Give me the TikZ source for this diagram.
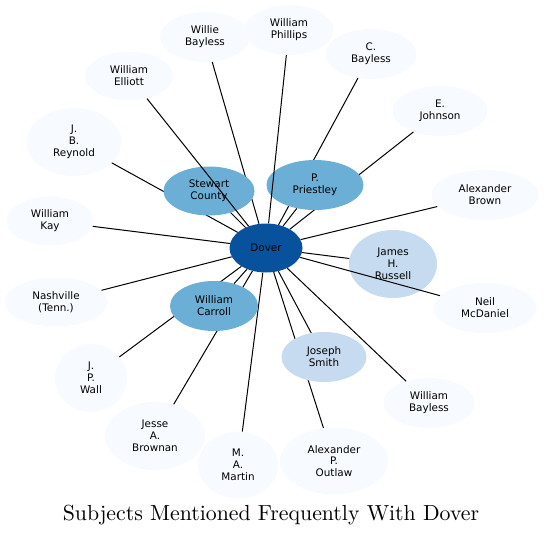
\documentclass[tikz,border=0pt]{standalone}
\usepackage{fontspec}
\usepackage{graphicx}
\newfontfamily\nodefont{DejaVu Sans}
\usetikzlibrary{shapes.geometric}
\definecolor{cdark}{HTML}{08519C}
\definecolor{cmid}{HTML}{6BAED6}
\definecolor{clight}{HTML}{C6DBEF}
\definecolor{cpale}{HTML}{F7FBFF}
\tikzset{
  ent/.style={ellipse, inner sep=0pt, align=center, font=\nodefont\fontsize{10.4}{11.8}\selectfont},
  pale/.style={ent, fill=cpale},
  mid/.style={ent, fill=cmid},
  lite/.style={ent, fill=clight},
  hub/.style={ent, fill=cdark},
  link/.style={draw=black, line width=1pt}
}
\begin{document}
\begin{tikzpicture}[x=1pt,y=-1pt]
\useasboundingbox (0,0) rectangle (544,535);
% positions
\coordinate (pdover) at (266,248);
\coordinate (pstewart) at (209,191);
\coordinate (ppriestley) at (315,185);
\coordinate (pcarroll) at (214,306);
\coordinate (prussell) at (393,264);
\coordinate (psmith) at (324,357);
\coordinate (pwillie) at (205,37);
\coordinate (pphillips) at (289,30);
\coordinate (pcbayless) at (371,54);
\coordinate (pjohnson) at (440,111);
\coordinate (pbrown) at (485,195);
\coordinate (pmcdaniel) at (485,308);
\coordinate (pwbayless) at (429,403);
\coordinate (poutlaw) at (334,461);
\coordinate (pmartin) at (238,465);
\coordinate (pbrownan) at (155,436);
\coordinate (pwall) at (91,378);
\coordinate (pnashville) at (56,302);
\coordinate (pkay) at (50,221);
\coordinate (preynold) at (74,142);
\coordinate (pelliott) at (129,76);
% leaf nodes
\node[pale, minimum width=90pt, minimum height=50pt] (willie) at (pwillie) {Willie\\Bayless};
\node[pale, minimum width=89pt, minimum height=50pt] (phillips) at (pphillips) {William\\Phillips};
\node[pale, minimum width=91pt, minimum height=50pt] (cbayless) at (pcbayless) {C.\\Bayless};
\node[pale, minimum width=95pt, minimum height=50pt] (johnson) at (pjohnson) {E.\\Johnson};
\node[pale, minimum width=107pt, minimum height=50pt] (brown) at (pbrown) {Alexander\\Brown};
\node[pale, minimum width=103pt, minimum height=50pt] (mcdaniel) at (pmcdaniel) {Neil\\McDaniel};
\node[pale, minimum width=91pt, minimum height=50pt] (wbayless) at (pwbayless) {William\\Bayless};
\node[pale, minimum width=108pt, minimum height=67pt] (outlaw) at (poutlaw) {Alexander\\P.\\Outlaw};
\node[pale, minimum width=80pt, minimum height=67pt] (martin) at (pmartin) {M.\\A.\\Martin};
\node[pale, minimum width=100pt, minimum height=68pt] (brownan) at (pbrownan) {Jesse\\A.\\Brownan};
\node[pale, minimum width=72pt, minimum height=68pt] (wall) at (pwall) {J.\\P.\\Wall};
\node[pale, minimum width=103pt, minimum height=49pt] (nashville) at (pnashville) {Nashville\\(Tenn.)};
\node[pale, minimum width=87pt, minimum height=49pt] (kay) at (pkay) {William\\Kay};
\node[pale, minimum width=95pt, minimum height=68pt] (reynold) at (preynold) {J.\\B.\\Reynold};
\node[pale, minimum width=88pt, minimum height=49pt] (elliott) at (pelliott) {William\\Elliott};
\node[hub, minimum width=73pt, minimum height=49pt] (dover) at (pdover) {Dover};
% connectors that pass under the inner nodes
\foreach \t in {willie,cbayless,johnson,brown,wbayless,outlaw,martin,brownan,wall,nashville,kay,reynold}
  \draw[link] (dover) -- (\t);
% inner nodes
\node[mid, minimum width=91pt, minimum height=49pt] (stewart) at (pstewart) {Stewart\\County};
\node[mid, minimum width=97pt, minimum height=50pt] (priestley) at (ppriestley) {P.\\Priestley};
\node[mid, minimum width=88pt, minimum height=50pt] (carroll) at (pcarroll) {William\\Carroll};
\node[lite, minimum width=88pt, minimum height=68pt] (russell) at (prussell) {James\\H.\\Russell};
\node[lite, minimum width=85pt, minimum height=50pt] (smith) at (psmith) {Joseph\\Smith};
% connectors drawn over the nodes
\foreach \t in {stewart,priestley,carroll,russell,smith,phillips,mcdaniel,elliott}
  \draw[link] (dover) -- (\t);
\node[anchor=base, inner sep=0pt] (title) at (271,520) {\scalebox{2.18}{\fontsize{10}{12}\selectfont Subjects Mentioned Frequently With Dover}};
\end{tikzpicture}
\end{document}
